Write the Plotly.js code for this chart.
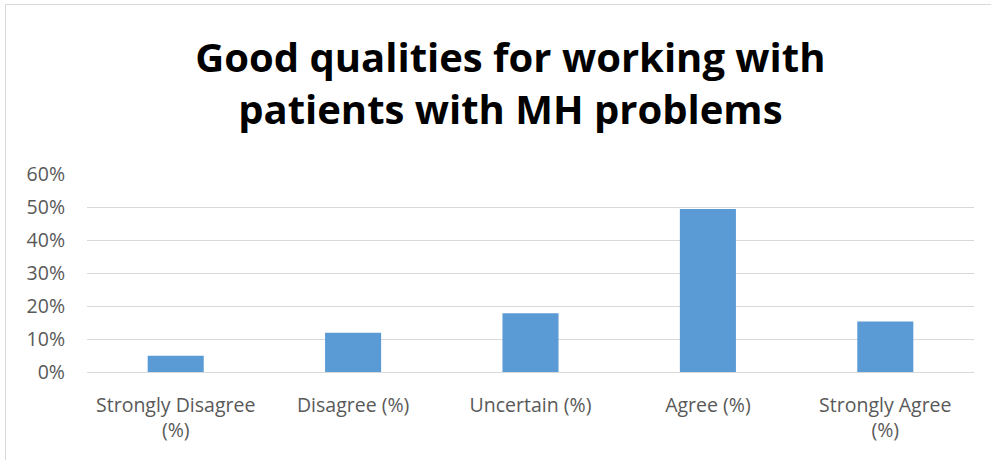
<!DOCTYPE html>
<html>
<head>
<meta charset="utf-8">
<script src="https://cdn.plot.ly/plotly-3.0.1.min.js"></script>
<style>
  body { margin: 0; background: #fff; }
  #chart { width: 991px; height: 460px; }
  #frame {
    position: absolute; left: 5px; top: 4px; width: 1000px; height: 500px;
    border: 1px solid #d9d9d9; pointer-events: none;
  }
</style>
</head>
<body>
<div id="chart"></div>
<div id="frame"></div>
<script>
const categories = ['Strongly Disagree<br>(%)', 'Disagree (%)', 'Uncertain (%)', 'Agree (%)', 'Strongly Agree<br>(%)'];
const shares = [0.049, 0.119, 0.178, 0.494, 0.153];
const yTicks = [0, 0.1, 0.2, 0.3, 0.4, 0.5, 0.6];
const yTickLabels = ['0%', '10%', '20%', '30%', '40%', '50%', '60%'];

const traces = [{
    x: categories,
    y: shares,
    type: 'bar',
    marker: {color: '#5b9bd5'},
    hoverinfo: 'x+y'
}];

const layout = {
    title: {
        text: 'Good qualities for working with<br>patients with MH problems',
        font: {family: 'Open Sans, sans-serif', size: 40, color: '#000', weight: 'bold'},
        x: 0.515,
        xanchor: 'center',
        y: 0.843,
        yanchor: 'middle'
    },
    font: {family: 'Open Sans, sans-serif', size: 19.5, color: '#595959'},
    margin: {l: 87, r: 17, t: 174, b: 88},
    bargap: 0.684,
    showlegend: false,
    paper_bgcolor: '#fff',
    plot_bgcolor: '#fff',
    xaxis: {
        type: 'category',
        showline: false,
        showgrid: false,
        ticks: '',
        ticklabelstandoff: 19,
        automargin: false
    },
    yaxis: {
        range: [0, 0.6],
        tickvals: yTicks,
        ticktext: yTickLabels,
        showgrid: true,
        gridcolor: '#d9d9d9',
        gridwidth: 1,
        zeroline: true,
        zerolinecolor: '#d9d9d9',
        zerolinewidth: 1,
        showline: false,
        ticks: '',
        ticklabelstandoff: 21,
        automargin: false
    }
};

Plotly.newPlot('chart', traces, layout, {displayModeBar: false, staticPlot: true});
</script>
</body>
</html>
